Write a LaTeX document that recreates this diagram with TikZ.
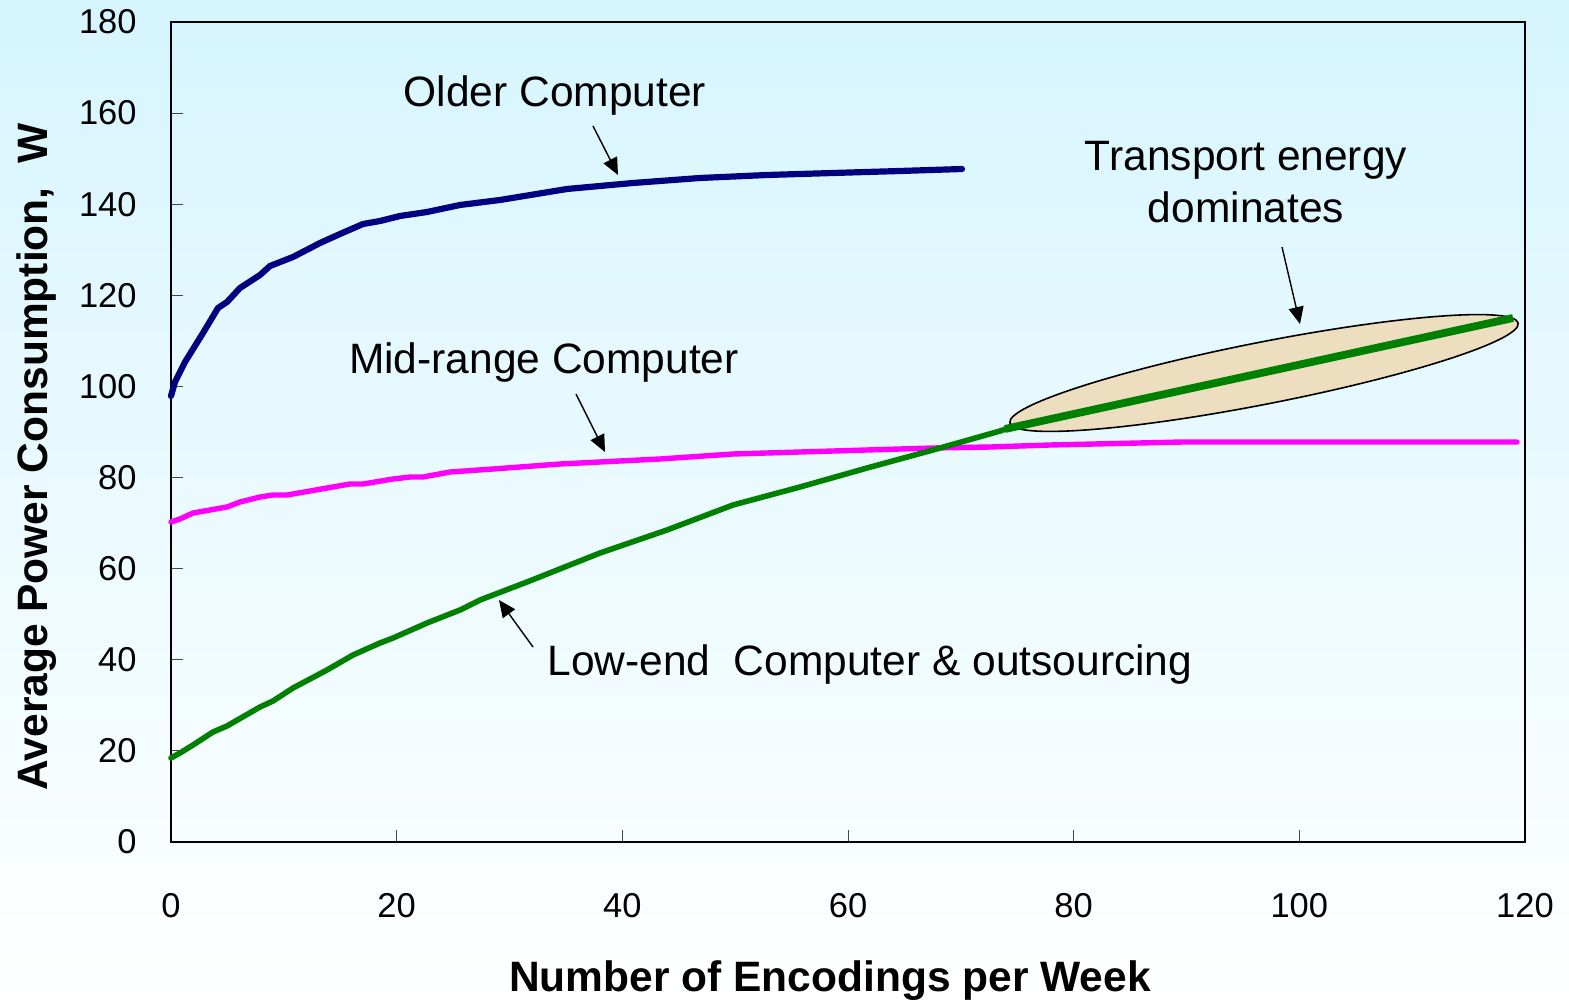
\documentclass[tikz,border=0pt]{standalone}
\usepackage{fontspec}
\setmainfont{Liberation Sans}
\usetikzlibrary{arrows.meta}
\definecolor{bgtop}{RGB}{214,245,254}
\definecolor{navyc}{RGB}{0,0,128}
\definecolor{magc}{RGB}{255,0,255}
\definecolor{greenc}{RGB}{0,128,0}
\definecolor{tanc}{RGB}{238,222,192}
\definecolor{tickc}{RGB}{70,70,70}
\begin{document}
\begin{tikzpicture}[x=0.5pt,y=-0.5pt,
  annot/.style={font=\fontsize{21.25pt}{26pt}\selectfont, inner sep=0pt, anchor=base},
  ticklab/.style={font=\fontsize{17.25pt}{20pt}\selectfont, inner sep=0pt},
  axtitle/.style={font=\fontsize{21.25pt}{26pt}\selectfont\bfseries, inner sep=0pt, anchor=base},
  curve/.style={line join=round, line cap=round},
  pointer/.style={line width=0.7pt, -{Triangle[length=8.5pt,width=7.5pt]}},
  tickmark/.style={draw=tickc, line width=0.5pt}]
\useasboundingbox (0,0) rectangle (1569,1000);
\fill[top color=bgtop, bottom color=white] (0,0) rectangle (1569,1000);

% ticks
\foreach \v in {20,40,...,160} { \draw[tickmark] (171,{842-\v*4.5556}) -- ++(12,0); }
\foreach \v in {20,40,...,100} { \draw[tickmark] ({171+\v*11.2833},842) -- ++(0,-12); }
% frame
\draw[line width=1pt] (171,22) rectangle (1525,842);

% tick labels
\foreach \v in {0,20,...,180} { \node[ticklab, anchor=east] (yl\v) at (137,{842-\v*4.5556}) {\v}; }
\foreach \v in {0,20,...,120} { \node[ticklab, anchor=base] (xl\v) at ({171+\v*11.2833},917) {\v}; }

% axis titles
\node[axtitle, rotate=90] (ytitle) at (47,457) {Average Power Consumption,\ \ W};
\node[axtitle] (xtitle) at (830,991) {Number of Encodings per Week};

% curves
\draw[curve, magc, line width=2.7pt] plot coordinates {
 (171,522) (180,519) (193,513) (210,510) (227,507) (240,502) (260,497) (273,495) (287,495)
 (310,491) (327,488) (350,484) (363,484) (393,479) (410,477) (423,477) (450,472) (493,469)
 (560,464) (600,462) (660,459) (733,454) (867,450) (933,448) (990,447) (1050,445) (1183,442) (1517,442)};
\draw[curve, navyc, line width=3.1pt] plot coordinates {
 (171,396) (175,382) (185,362) (203,333) (218,308) (227,302) (240,288) (260,275) (270,266)
 (293,257) (320,243) (340,234) (363,224) (380,221) (400,216) (427,212) (460,205) (500,200)
 (567,189) (633,183) (700,178) (767,175) (833,173) (900,171) (962,169)};
\draw[curve, greenc, line width=2.8pt] plot coordinates {
 (171,758) (180,753) (193,745) (213,732) (227,726) (260,707) (273,701) (293,688) (327,670)
 (353,655) (380,643) (393,638) (427,623) (460,610) (480,600) (527,582) (600,553) (667,530)
 (733,505) (800,487) (867,468) (933,450) (1000,431) (1009,428)};

% highlight ellipse
\draw[fill=tanc, line width=0.8pt, rotate around={11.1:(1264,373)}]
  (1264,373) ellipse [x radius=259, y radius=31];
\draw[curve, greenc, line width=3.9pt, line cap=butt] (1005,429) -- (1513,318);

% pointers
\coordinate (olderTail) at (593,126); \coordinate (olderTip) at (618,175);
\coordinate (midTail) at (576,394);   \coordinate (midTip) at (605,452);
\coordinate (lowTail) at (533,647);   \coordinate (lowTip) at (499,600);
\coordinate (transTail) at (1282,247); \coordinate (transTip) at (1300,324);
\draw[pointer] (olderTail) -- (olderTip);
\draw[pointer] (midTail) -- (midTip);
\draw[pointer] (lowTail) -- (lowTip);
\draw[pointer] (transTail) -- (transTip);

% annotations
\node[annot] (older) at (555,107) {Older Computer};
\node[annot] (mid) at (544,373) {Mid-range Computer};
\node[annot, anchor=base west] (low) at (547,675) {Low-end\ \ Computer \& outsourcing};
\node[annot] (trans1) at (1246,171) {Transport energy};
\node[annot] (trans2) at (1246,223) {dominates};
\end{tikzpicture}
\end{document}
